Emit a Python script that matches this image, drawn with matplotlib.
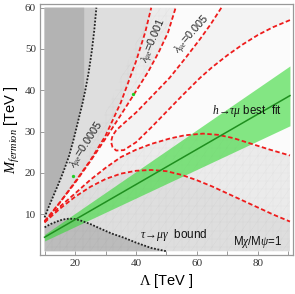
import numpy as np
import matplotlib.pyplot as plt
from matplotlib.patches import Polygon, PathPatch
from matplotlib.path import Path
from matplotlib.collections import LineCollection

plt.rcParams['font.family'] = ['Liberation Sans', 'DejaVu Sans']
plt.rcParams['mathtext.fontset'] = 'custom'
plt.rcParams['mathtext.it'] = 'Liberation Serif:italic'
plt.rcParams['mathtext.rm'] = 'Liberation Serif'

# plotted region (Lambda, M_fermion in TeV)
lam_range = [10, 90.5]
m_range = [1, 60]

# lambda_mue = 0.0005 contour (upper / lower branch)
c05_up_x = [10, 15, 20, 25, 30, 35, 40, 43, 45]
c05_up_y = [8, 12.8, 17.8, 23, 29, 37, 47, 54, 60]
c05_lo_x = [10, 15, 20, 25, 30, 35, 40, 45, 50, 55, 60, 65, 70, 75, 80, 85, 90.5]
c05_lo_y = [8, 11.3, 14.2, 16.6, 18.5, 19.8, 20.5, 20.7, 20.4, 19.5, 18.2, 16.7, 15, 13.3, 11.6, 9.9, 8.2]

# lambda_mue = 0.001
c1_up_x = [10, 15, 20, 25, 30, 35, 40, 44, 47.5, 50.5, 53]
c1_up_y = [8.3, 12.8, 17.6, 22.8, 28.3, 34, 39.8, 44.5, 49.3, 54, 60]
c1_lo_x = [10, 15, 20, 25, 30, 35, 40, 45, 51, 56, 62, 67, 72, 78, 84, 90.5]
c1_lo_y = [8.3, 11.8, 15, 18.3, 21.2, 23.8, 25.6, 27, 28.3, 29.1, 29.5, 29.2, 28.4, 27, 25.6, 24.2]

# lambda_mue = 0.005 (closed tip near Lambda ~ 32)
c5_up_x = [31.8, 32.3, 33.5, 36, 40, 45, 51, 56, 61, 64.5, 68]
c5_up_y = [27.5, 29, 30.3, 32, 34.6, 38.4, 43, 47.6, 52.4, 56, 60]
c5_lo_x = [31.8, 32.3, 33.5, 36, 40, 45, 50, 55, 61, 65, 70, 75, 80, 85, 90.5]
c5_lo_y = [27.5, 26.2, 25.4, 25.5, 27.4, 31, 34.8, 38.6, 43, 45.6, 48.5, 51.1, 53.4, 55.3, 57]

# black dotted bounds
left_x = [10, 11.5, 13, 14.5, 16.3, 18, 19.5, 21, 22.5, 23.5, 24.5, 25.5, 26.3, 27]
left_y = [9.2, 12, 14.6, 17.2, 20.5, 24, 28, 32.5, 37, 40.5, 44.5, 49.5, 54.5, 60]
left_cut = 23.0
tau_x = [10, 12, 14, 16, 18, 20, 22, 25, 28, 32, 36, 40, 45, 50]
tau_y = [6.8, 7.6, 8.2, 8.7, 8.9, 8.8, 8.4, 7.6, 6.6, 5.3, 4.3, 3.1, 1.8, 1.0]

# h -> tau mu best fit band
fit_x = [10, 90.5]
fit_c = [4.4, 38.7]
fit_lo = [3.5, 31.4]
fit_hi = [5.1, 45.9]
pts_x = [19.2, 39.1]
pts_y = [19.3, 39.0]


def pts(x, y):
    return np.column_stack([x, y])


x0, x1 = lam_range
y0, y1 = m_range

fig = plt.figure(figsize=(2.95, 2.94), dpi=100)
ax = fig.add_axes([0.1356, 0.1327, 0.8576, 0.8537])

ax.add_patch(Polygon([[x0, y0], [x1, y0], [x1, y1], [x0, y1]], closed=True,
                     facecolor='#fbfbfb', edgecolor='none', zorder=0))

out_v1 = np.vstack([[[x0, y0], [x1, y0]], pts(c05_lo_x, c05_lo_y)[::-1],
                    pts(c05_up_x, c05_up_y), [[x0, y1]]])
ring = np.vstack([pts(c05_up_x, c05_up_y), pts(c1_up_x, c1_up_y)[::-1],
                  pts(c1_lo_x, c1_lo_y), pts(c05_lo_x, c05_lo_y)[::-1]])
v3 = np.vstack([pts(c5_lo_x, c5_lo_y), [[x1, y1]], pts(c5_up_x, c5_up_y)[::-1]])

ax.add_patch(Polygon(out_v1, facecolor='#dedede', edgecolor='none', zorder=1))
ax.add_patch(Polygon(ring, facecolor='#ebebeb', edgecolor='none', zorder=1))
ax.add_patch(Polygon(v3, facecolor='#f3f3f3', edgecolor='none', zorder=1))

left_poly = np.vstack([pts(left_x, left_y), [[x0, y1]]])
ax.add_patch(Polygon(left_poly, facecolor='#cdcdcd', edgecolor='none', zorder=1.2))
lx = np.array(left_x)
ly = np.array(left_y)
keep = lx <= left_cut
inner = np.vstack([pts(lx[keep], ly[keep]),
                   [[left_cut, np.interp(left_cut, lx, ly)], [left_cut, y1], [x0, y1]]])
ax.add_patch(Polygon(inner, facecolor='#b3b3b3', edgecolor='none', zorder=1.3))
tau_poly = np.vstack([[[x0, y0]], pts(tau_x, tau_y)])
ax.add_patch(Polygon(tau_poly, facecolor='#bcbcbc', edgecolor='none', zorder=1.3))

# faint mesh on the excluded regions
clip = PathPatch(Path.make_compound_path(Path(out_v1, closed=True), Path(ring, closed=True)),
                 facecolor='none', edgecolor='none', transform=ax.transData)
ax.add_patch(clip)
segs = [[(gx, y0), (gx, y1)] for gx in np.arange(x0, x1, 2.5)]
segs += [[(x0, gy), (x1, gy)] for gy in np.arange(2, y1, 2)]
segs += [[(c, 0), (c + 60 / 1.05, 60)] for c in np.arange(-60, x1, 3)]
mesh = LineCollection(segs, colors='k', linewidths=0.35, alpha=0.03, zorder=2)
ax.add_collection(mesh)
mesh.set_clip_path(clip)

# best fit band
ax.fill_between(fit_x, fit_lo, fit_hi, color=(0.2, 0.85, 0.2), alpha=0.6, lw=0, zorder=3)
ax.plot(fit_x, fit_c, color='#1f8f1f', lw=1.1, zorder=6)
ax.plot(pts_x, pts_y, 'o', color='#22cc22', ms=2.4, mew=0, zorder=6)

red = dict(color='#ee1c1c', lw=1.3, ls=(0, (2.5, 1.4)), zorder=5)
for cx, cy in [(c05_up_x, c05_up_y), (c05_lo_x, c05_lo_y), (c1_up_x, c1_up_y),
               (c1_lo_x, c1_lo_y)]:
    ax.plot(cx, cy, **red)
ax.plot(list(c5_lo_x[::-1]) + list(c5_up_x[1:]), list(c5_lo_y[::-1]) + list(c5_up_y[1:]), **red)

blk = dict(color='#222222', lw=1.3, ls=(0, (1, 0.9)), zorder=5)
ax.plot(left_x, left_y, **blk)
ax.plot(tau_x, tau_y, **blk)

# labels
lab = dict(ha='center', va='center', fontsize=7.8, color='#222222', zorder=7)
ax.text(24.3, 26.6, r'$\lambda_{\mu e}$=0.0005', rotation=57, **lab)
ax.text(46.2, 52.0, r'$\lambda_{\mu e}$=0.001', rotation=67, **lab)
ax.text(58.7, 53.4, r'$\lambda_{\mu e}$=0.005', rotation=48, **lab)
ax.text(76.5, 35.1, r'$h\!\rightarrow\!\tau\mu$ best  fit', ha='center', va='center',
        fontsize=8.3, color='#111111', zorder=7)
ax.text(52.5, 4.9, r'$\tau\!\rightarrow\!\mu\gamma$  bound', ha='center', va='center',
        fontsize=8.5, color='#111111', zorder=7)
ax.text(79.8, 3.3, r'M$\chi$/M$\psi$=1', ha='center', va='center',
        fontsize=8.3, color='#111111', zorder=7)

ax.set_xlim(8.5, 91.5)
ax.set_ylim(0.1, 60.9)
ax.set_xticks([20, 40, 60, 80])
ax.set_xticks([10, 30, 50, 70, 90], minor=True)
ax.set_yticks([10, 20, 30, 40, 50, 60])
ax.tick_params(direction='in', length=3, width=0.7, color='#999999',
               labelsize=8, labelcolor='#333333', pad=3)
ax.tick_params(which='minor', direction='in', length=3, width=0.7, color='#999999')
for lbl in ax.get_xticklabels() + ax.get_yticklabels():
    lbl.set_fontfamily('Liberation Serif')
for sp in ax.spines.values():
    sp.set_color('#999999')
    sp.set_linewidth(0.9)

ax.set_xlabel(r'$\Lambda$ [TeV ]', fontsize=10.5, labelpad=3)
ax.set_ylabel(r'$M_{fermion}$ [TeV ]', fontsize=10.5, labelpad=2)

fig.savefig('out.png', dpi=100)
